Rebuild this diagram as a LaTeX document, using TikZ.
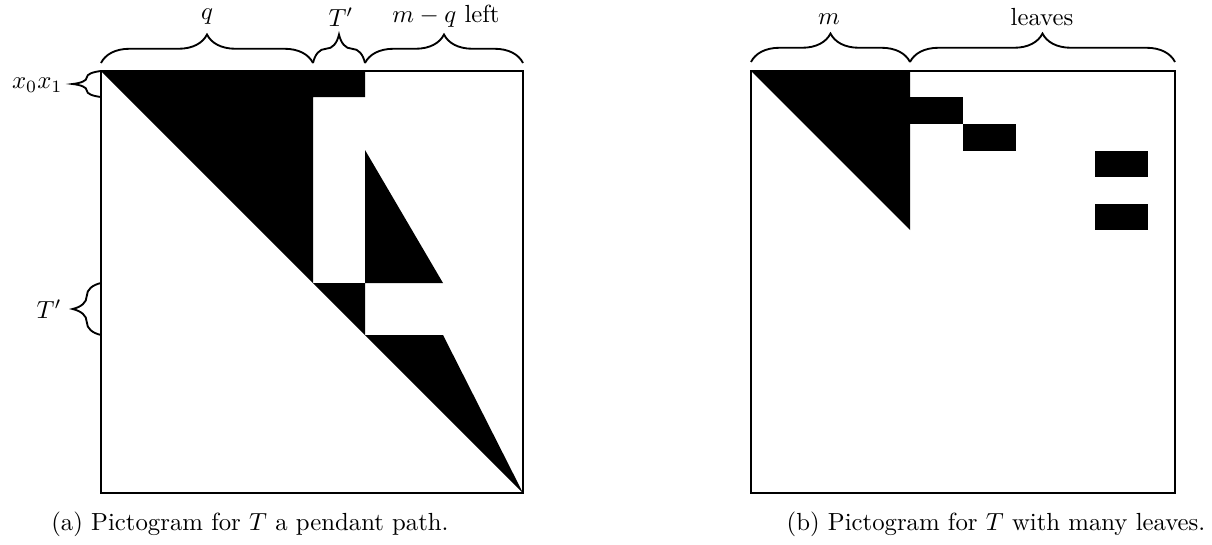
\documentclass[tikz,border=0pt]{standalone}
\usetikzlibrary{decorations.pathreplacing}
\begin{document}
\begin{tikzpicture}[x=0.404pt,y=-0.404pt,
  frame/.style={line width=0.8pt},
  blk/.style={fill=black},
  brc/.style={decorate,decoration={brace,amplitude=11.5pt},line width=0.75pt},
  lbl/.style={inner sep=0pt}]
\useasboundingbox (0,0) rectangle (1212,544);
% ---------- (a) ----------
\coordinate (a-nw) at (101,71);
\coordinate (a-se) at (523,493);
\fill[blk] (101,71) -- (365,71) -- (365,97) -- (313,97) -- (313,283) -- cycle;
\fill[blk] (365,150) -- (365,283) -- (443,283) -- cycle;
\fill[blk] (313,283) -- (365,283) -- (365,335) -- cycle;
\fill[blk] (365,335) -- (443,335) -- (523,493) -- cycle;
\draw[frame] (a-nw) rectangle (a-se);
% top braces
\coordinate (a-b0) at (101,63);
\coordinate (a-b1) at (313,63);
\coordinate (a-b2) at (365,63);
\coordinate (a-b3) at (523,63);
\draw[brc] (a-b0) -- (a-b1);
\draw[brc] (a-b1) -- (a-b2);
\draw[brc] (a-b2) -- (a-b3);
\node[lbl] (a-q) at (207,17) {$q$};
\node[lbl] (a-tp) at (341,17) {$T'$};
\node[lbl] (a-mq) at (446,16) {$m-q$ left};
% left braces
\coordinate (a-l0) at (101,71);
\coordinate (a-l1) at (101,97);
\coordinate (a-l2) at (101,283);
\coordinate (a-l3) at (101,335);
\draw[brc] (a-l1) -- (a-l0);
\draw[brc] (a-l3) -- (a-l2);
\node[lbl,anchor=east] (a-x) at (63,85) {$x_0x_1$};
\node[lbl,anchor=east] (a-tl) at (62,309) {$T'$};
\node[lbl] (a-cap) at (250,524) {(a) Pictogram for $T$ a pendant path.};
% ---------- (b) ----------
\coordinate (b-nw) at (751,71);
\coordinate (b-se) at (1175,493);
\fill[blk] (751,71) -- (910,71) -- (910,230) -- cycle;
\fill[blk] (910,97) rectangle (963,124);
\fill[blk] (963,124) rectangle (1016,151);
\fill[blk] (1095,151) rectangle (1148,177);
\fill[blk] (1095,204) rectangle (1148,230);
\draw[frame] (b-nw) rectangle (b-se);
\coordinate (b-b0) at (751,62);
\coordinate (b-b1) at (910,62);
\coordinate (b-b2) at (1175,62);
\draw[brc] (b-b0) -- (b-b1);
\draw[brc] (b-b1) -- (b-b2);
\node[lbl] (b-m) at (829,19) {$m$};
\node[lbl] (b-lv) at (1042,17) {leaves};
\node[lbl] (b-cap) at (996,524) {(b) Pictogram for $T$ with many leaves.};
\end{tikzpicture}
\end{document}
